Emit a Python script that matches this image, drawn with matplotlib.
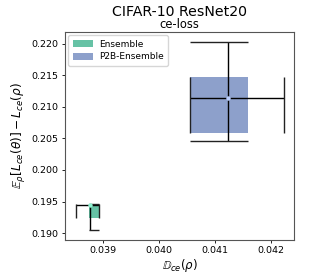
import matplotlib
matplotlib.use("Agg")
import matplotlib.pyplot as plt
from matplotlib.patches import Rectangle

# 2D box summary per method: min, q1, median, q3, max along each axis
methods = ["Ensemble", "P2B-Ensemble"]
colors = ["#66c2a5", "#8da0cb"]
point_colors = ["#8ff0cf", "#b9cdfb"]

x_stats = [
    [0.03852, 0.03875, 0.03876, 0.03893, 0.03893],
    [0.04055, 0.04055, 0.04124, 0.04158, 0.04223],
]
y_stats = [
    [0.19041, 0.19235, 0.19449, 0.19464, 0.19464],
    [0.20467, 0.20585, 0.21149, 0.21482, 0.22032],
]

xticks = [0.039, 0.040, 0.041, 0.042]
yticks = [0.190, 0.195, 0.200, 0.205, 0.210, 0.215, 0.220]

fig = plt.figure(figsize=(3.27, 2.73), dpi=100)
ax = fig.add_axes([0.199, 0.121, 0.700, 0.762])

for name, c, pc, xs, ys in zip(methods, colors, point_colors, x_stats, y_stats):
    xmin, xq1, xmed, xq3, xmax = xs
    ymin, yq1, ymed, yq3, ymax = ys
    ax.add_patch(Rectangle((xq1, yq1), xq3 - xq1, yq3 - yq1, facecolor=c,
                           edgecolor="none", label=name, zorder=1))
    # horizontal whisker with vertical caps the height of the box
    ax.hlines(ymed, xmin, xmax, color="black", lw=1.0, zorder=2)
    ax.vlines([xmin, xmax], yq1, yq3, color="#222222", lw=1.0, zorder=2)
    # vertical whisker with horizontal caps the width of the box
    ax.vlines(xmed, ymin, ymax, color="black", lw=1.0, zorder=2)
    ax.hlines([ymin, ymax], xq1, xq3, color="#222222", lw=1.0, zorder=2)
    ax.plot([xmed], [ymed], "o", color=pc, ms=3.2, mew=0, zorder=3)

ax.set_xlim(0.03832, 0.04241)
ax.set_ylim(0.1889, 0.2219)
ax.set_xticks(xticks)
ax.set_yticks(yticks)
ax.set_xticklabels(["%.3f" % t for t in xticks])
ax.set_yticklabels(["%.3f" % t for t in yticks])
ax.tick_params(labelsize=6.8, length=2.5, width=0.6, pad=2)
for s in ax.spines.values():
    s.set_color("#555555")
    s.set_linewidth(0.8)

ax.set_xlabel(r"$\mathbb{D}_{ce}(\rho)$", fontsize=8.5, labelpad=1)
ax.set_ylabel(r"$\mathbb{E}_{\rho}[L_{ce}(\theta)] - L_{ce}(\rho)$", fontsize=8.7, labelpad=3)

ax.set_title("ce-loss", fontsize=8.3, pad=3)
fig.text(0.549, 0.955, "CIFAR-10 ResNet20", fontsize=10.2, ha="center", va="center")

ax.legend(loc="upper left", fontsize=6.5, handlelength=2.2, handleheight=0.8,
          handletextpad=0.7, borderpad=0.5, labelspacing=0.4, borderaxespad=0.35,
          framealpha=0.8, fancybox=True)

fig.savefig("out.png", dpi=100)
